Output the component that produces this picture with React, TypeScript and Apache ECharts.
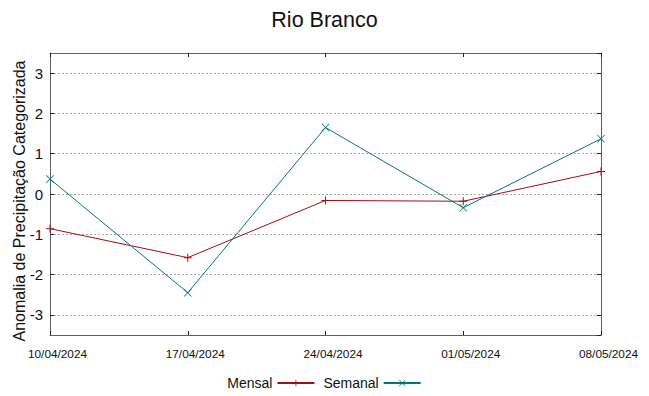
import React, { useEffect, useRef } from "react";
import * as echarts from "echarts";

const categories = ["10/04/2024", "17/04/2024", "24/04/2024", "01/05/2024", "08/05/2024"];
const mensal = [-0.86, -1.58, -0.16, -0.18, 0.56];
const semanal = [0.37, -2.45, 1.65, -0.34, 1.37];

const plusPath = "path://M3.5,0H4.5V3.5H8V4.5H4.5V8H3.5V4.5H0V3.5H3.5Z";
const crossPath =
  "path://M0,0.7L0.7,0L5,4.3L9.3,0L10,0.7L5.7,5L10,9.3L9.3,10L5,5.7L0.7,10L0,9.3L4.3,5Z";

export default function App() {
  const ref = useRef<HTMLDivElement>(null);
  useEffect(() => {
    document.body.style.margin = "0";
    if (!ref.current) return;
    const chart = echarts.init(ref.current, undefined, { renderer: "svg" });
    const font = "Liberation Sans, Arial, sans-serif";
    const yCommon = {
      type: "value" as const,
      min: -3.5,
      max: 3.5,
      splitNumber: 7,
      axisLine: { show: true, onZero: false, lineStyle: { color: "#606060", width: 1 } },
      axisTick: { show: true, inside: true, length: 4, lineStyle: { color: "#222" } },
    };
    chart.setOption({
      animation: false,
      backgroundColor: "#fff",
      textStyle: { fontFamily: font },
      title: {
        text: "Rio Branco",
        left: "center",
        top: 4,
        textStyle: { fontFamily: font, fontSize: 21.5, fontWeight: "normal", color: "#111" },
      },
      legend: {
        top: 371,
        left: "center",
        align: "right",
        itemWidth: 37,
        itemHeight: 8,
        itemGap: 8,
        textStyle: { fontFamily: font, fontSize: 14, color: "#111" },
        data: ["Mensal", "Semanal"],
      },
      grid: { left: 50, right: 48, top: 53, bottom: 61, containLabel: false },
      xAxis: [
        {
          type: "category",
          data: categories,
          boundaryGap: false,
          axisLine: { show: true, onZero: false, lineStyle: { color: "#606060", width: 1 } },
          axisTick: { show: true, inside: true, length: 4, lineStyle: { color: "#222" } },
          axisLabel: {
            fontFamily: font,
            fontSize: 11.8,
            color: "#111",
            margin: 13,
            padding: [0, 0, 0, 15],
          },
          splitLine: { show: false },
        },
        {
          type: "category",
          data: categories,
          boundaryGap: false,
          position: "top",
          axisLine: { show: true, onZero: false, lineStyle: { color: "#606060", width: 1 } },
          axisTick: { show: true, inside: true, length: 4, lineStyle: { color: "#222" } },
          axisLabel: { show: false },
          splitLine: { show: false },
        },
      ],
      yAxis: [
        {
          ...yCommon,
          name: "Anomalia de Precipitação Categorizada",
          nameLocation: "middle",
          nameGap: 23,
          nameMoveOverlap: false,
          nameTextStyle: { fontFamily: font, fontSize: 16, color: "#111", padding: [0, 14, 0, 0] },
          axisLabel: {
            fontFamily: font,
            fontSize: 15,
            color: "#111",
            margin: 7,
            showMinLabel: false,
            showMaxLabel: false,
          },
          splitLine: { show: true, lineStyle: { color: "#a8a8a8", type: [2, 2], width: 1 } },
        },
        {
          ...yCommon,
          position: "right",
          axisLabel: { show: false },
          splitLine: { show: false },
        },
      ],
      series: [
        {
          name: "Mensal",
          type: "line",
          data: mensal,
          symbol: plusPath,
          symbolSize: 8,
          showSymbol: true,
          color: "#a00f14",
          lineStyle: { width: 1, color: "#a00f14" },
          itemStyle: { color: "#a00f14" },
        },
        {
          name: "Semanal",
          type: "line",
          data: semanal,
          symbol: crossPath,
          symbolSize: 8,
          showSymbol: true,
          color: "#007878",
          lineStyle: { width: 1, color: "#007878" },
          itemStyle: { color: "#007878" },
        },
      ],
    });
    return () => chart.dispose();
  }, []);
  return <div ref={ref} style={{ width: 649, height: 396 }} />;
}
